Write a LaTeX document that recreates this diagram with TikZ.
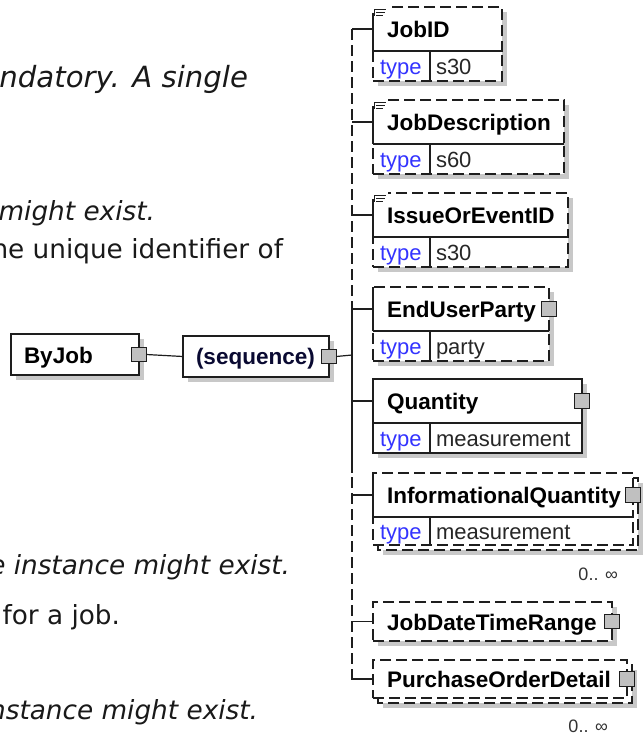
\documentclass[tikz,border=0pt]{standalone}
\usepackage{fontspec}
\setmainfont{Liberation Sans}
\newfontfamily\notefont{DejaVu Sans}
\usetikzlibrary{calc}
\definecolor{shadowgray}{RGB}{200,200,200}
\definecolor{expgray}{RGB}{192,192,192}
\definecolor{typeblue}{RGB}{51,51,255}
\definecolor{edgecol}{RGB}{30,30,30}
\definecolor{seqcol}{RGB}{10,10,50}
\newcommand\typedel[7]{%
  \fill[shd] (378,{#2+5}) rectangle ({378+#3},{#2+49+#7});
  \node[box,#6,minimum width=#3,minimum height=44] (#1) at (373,#2) {};
  \node[box,#6,minimum width=#3,minimum height=#7] (#1-t) at (#1.south west) {};
  \draw[edge] (#1.south west) -- (#1.south east);
  \draw[edge] (#1.south west) -- (#1.north west);
  \draw[edge] (430,{#2+44}) -- (430,{#2+44+#7});
  \node[nm] (#1-n) at (387,{#2+30}) {#4};
  \node[tp] (#1-tp) at (380,{#2+44+#7/2+8}) {type};
  \node[tv] (#1-tv) at (436,{#2+44+#7/2+8}) {#5};
}
\newcommand\noteicon[1]{%
  \fill[white] (371,{#1-2}) rectangle (388,{#1+6});
  \draw[line width=0.9pt,edgecol] (374,{#1+2}) -- (386,{#1+2}) (376,{#1+5}) -- (385,{#1+5}) (376,{#1+8}) -- (383,{#1+8});
  \draw[line width=0.9pt,edgecol] (374,{#1+2}) -- (374,{#1+9});
}
\begin{document}
\begin{tikzpicture}[x=1pt,y=-1pt,
  every node/.style={inner sep=0pt, outer sep=0pt},
  box/.style={draw=edgecol, line width=1.2pt, fill=white, anchor=north west},
  edge/.style={draw=edgecol, line width=1.2pt, solid},
  opt/.style={dash pattern=on 11pt off 5pt},
  nm/.style={font=\bfseries\fontsize{22.5}{24}\selectfont, anchor=base west},
  tp/.style={font=\fontsize{22}{24}\selectfont, text=typeblue, anchor=base west},
  tv/.style={font=\fontsize{22}{24}\selectfont, text=black!85, anchor=base west},
  expander/.style={draw=edgecol, line width=1pt, fill=expgray, minimum size=14.5pt},
  shd/.style={fill=shadowgray},
  txtnote/.style={font=\notefont\fontsize{26.3}{28}\selectfont, text=black!90, anchor=base east},
  occ/.style={font=\fontsize{18}{20}\selectfont, text=black!80, anchor=base east},
]
\useasboundingbox (0,0) rectangle (643,736);
\clip (0,0) rectangle (643,736);

% left cut-off text
\node[txtnote,font=\notefont\fontsize{29.2}{31}\selectfont] (t1) at (248,87) {\itshape ndatory. A single};
\node[txtnote] (t2) at (155,220) {\itshape might exist.};
\node[txtnote] (t3) at (283,258) {he unique identifier of};
\node[txtnote] (t4) at (290,574) {\itshape e instance might exist.};
\node[txtnote] (t5) at (120,624) {for a job.};
\node[txtnote] (t6) at (258,719) {\itshape nstance might exist.};

% ByJob
\fill[shd] (16,339) rectangle (144,380);
\node[box,minimum width=128,minimum height=41] (byjob) at (11,334) {};
\node[nm] (byjob-n) at (24,363) {ByJob};
\node[expander] (byjob-x) at (byjob.east) {};

% sequence
\fill[shd] (188,341) rectangle (334,382);
\node[box,minimum width=146,minimum height=41] (seq) at (183,336) {};
\node[nm,text=seqcol] (seq-n) at (196,364) {(sequence)};
\node[expander] (seq-x) at (seq.east) {};

% spine
\coordinate (spT) at (352,29);
\coordinate (spB) at (352,680);
\coordinate (spS) at (352,355);
\draw[edgecol,line width=1.2pt,opt] (spT) -- (spB);
\draw[edge] (352,29) -- (352,36);
\draw[edge] (352,305) -- (352,473);

\draw[edge] (byjob-x.east) -- (seq.west);
\draw[edge] (seq-x.east) -- (spS);

% JobID
\typedel{jobid}{7}{129}{JobID}{s30}{opt}{30}
\noteicon{7}
% JobDescription
\typedel{jobdesc}{100}{191}{JobDescription}{s60}{opt}{30}
\noteicon{100}
% IssueOrEventID
\typedel{issue}{193}{195}{IssueOrEventID}{s30}{opt}{30}
\noteicon{193}
% EndUserParty
\typedel{enduser}{287}{176}{EndUserParty}{party}{opt}{30}
\node[expander] (enduser-x) at (enduser.east) {};
% Quantity
\typedel{qty}{379}{209}{Quantity}{measurement}{solid}{30}
\node[expander] (qty-x) at (qty.east) {};

% InformationalQuantity (multiple)
\fill[shd] (383,483) rectangle (643,555);
\draw[edge,opt,fill=white] (378,478) rectangle (638,550);
\node[box,opt,minimum width=260,minimum height=44] (infoq) at (373,473) {};
\node[box,opt,minimum width=260,minimum height=28] (infoq-t) at (infoq.south west) {};
\draw[edge] (infoq.south west) -- (infoq.south east);
\draw[edge] (infoq.south west) -- (infoq.north west);
\draw[edge] (430,517) -- (430,545);
\node[nm] (infoq-n) at (387,503) {InformationalQuantity};
\node[tp] (infoq-tp) at (380,539) {type};
\node[tv] (infoq-tv) at (436,539) {measurement};
\node[expander] (infoq-x) at (infoq.east) {};
\node[occ] (infoq-o) at (618,580) {0.. ∞};

% JobDateTimeRange
\fill[shd] (378,607) rectangle (617,646);
\node[box,opt,minimum width=239,minimum height=39] (jdtr) at (373,602) {};
\node[nm] (jdtr-n) at (387,630) {JobDateTimeRange};
\node[expander] (jdtr-x) at (jdtr.east) {};

% PurchaseOrderDetail (multiple)
\fill[shd] (383,670) rectangle (637,708);
\draw[edge,opt,fill=white] (378,665) rectangle (632,703);
\node[box,opt,minimum width=254,minimum height=38] (pod) at (373,660) {};
\node[nm] (pod-n) at (387,687) {PurchaseOrderDetail};
\node[expander] (pod-x) at (pod.east) {};
\node[occ] (pod-o) at (608,732) {0.. ∞};

% connectors to spine
\foreach \n in {jobid,jobdesc,issue,enduser,qty,infoq,jdtr,pod}
  \draw[edge] (spT |- \n.west) -- (\n.west);
\end{tikzpicture}
\end{document}
